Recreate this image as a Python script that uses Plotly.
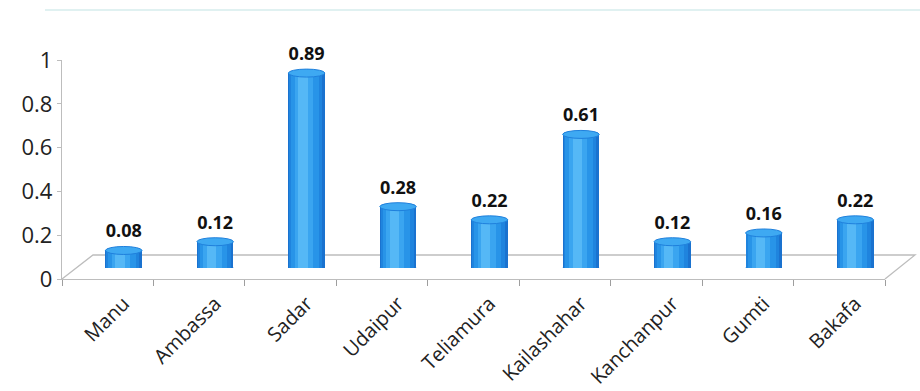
import plotly.graph_objects as go

categories = ["Manu", "Ambassa", "Sadar", "Udaipur", "Teliamura",
              "Kailashahar", "Kanchanpur", "Gumti", "Bakafa"]
values = [0.08, 0.12, 0.89, 0.28, 0.22, 0.61, 0.12, 0.16, 0.22]
value_labels = ["0.08", "0.12", "0.89", "0.28", "0.22", "0.61", "0.12", "0.16", "0.22"]
y_ticks = [0, 0.2, 0.4, 0.6, 0.8, 1]
y_tick_text = ["0", "0.2", "0.4", "0.6", "0.8", "1"]

W, H = 920, 391
L, R, T, B = 62, 5, 60, 112
PW = W - L - R          # 853
PH = H - T - B          # 219
FRONT_W = 823           # width of front axis
DX, DY = 16, 11         # bar depth offset (px)
BX, BY = 31, 24         # back wall offset (px)
LX = 16                 # category label shift (px)

x_idx = list(range(len(categories)))

fig = go.Figure()

layers = [
    (0.40, -0.200, "#1a72cf"),
    (0.36, -0.190, "#1f84de"),
    (0.30, -0.170, "#2894e8"),
    (0.20, -0.130, "#3aa5f0"),
    (0.10, -0.090, "#55b8f6"),
]
for w, off, col in layers:
    fig.add_trace(go.Bar(
        x=x_idx, y=values, width=w, offset=off,
        marker=dict(color=col, line=dict(width=0)),
        xaxis="x2", yaxis="y2", hoverinfo="skip", showlegend=False,
    ))

fig.add_trace(go.Scatter(
    x=x_idx, y=values, mode="text+markers", text=value_labels,
    textposition="top center",
    marker=dict(size=12, opacity=0),
    textfont=dict(family="Open Sans", size=18, color="#111111", weight="bold"),
    xaxis="x2", yaxis="y2", cliponaxis=False, hoverinfo="skip", showlegend=False,
))

fig.add_trace(go.Scatter(
    x=categories, y=[None] * len(categories), mode="markers",
    xaxis="x3", yaxis="y", showlegend=False, hoverinfo="skip",
))
fig.add_trace(go.Scatter(
    x=categories, y=[None] * len(categories), mode="markers",
    xaxis="x", yaxis="y", showlegend=False, hoverinfo="skip",
))

shapes = []
eh = 8 / PH
for i, v in zip(x_idx, values):
    shapes.append(dict(type="circle", xref="x2", yref="y2",
                       x0=i - 0.20, x1=i + 0.20, y0=-eh / 2, y1=eh / 2,
                       fillcolor="#1b74d2", line=dict(width=0), layer="below"))
    shapes.append(dict(type="circle", xref="x2", yref="y2",
                       x0=i - 0.20, x1=i + 0.20, y0=v - eh / 2, y1=v + eh / 2,
                       fillcolor="#3ea9f2", line=dict(color="#1f80dc", width=1),
                       layer="above"))

def px(xp):
    return (xp - L) / PW

def py(yp):
    return (H - B - yp) / PH

fx0, fx1 = L, L + FRONT_W
fy = H - B
floor_path = (f"M{px(fx0)},{py(fy)} L{px(fx0 + BX)},{py(fy - BY)} "
              f"L{px(fx1 + BX - 1)},{py(fy - BY)} L{px(fx1)},{py(fy)}")
shapes.append(dict(type="path", xref="paper", yref="paper", path=floor_path,
                   line=dict(color="#bdbdbd", width=1.3), layer="below"))
shapes.append(dict(type="line", xref="paper", yref="paper",
                   x0=px(45), x1=px(920), y0=py(10), y1=py(10),
                   line=dict(color="#d6ecec", width=1.5)))

fig.update_layout(
    width=W, height=H,
    margin=dict(l=L, r=R, t=T, b=B, pad=0, autoexpand=False),
    paper_bgcolor="white", plot_bgcolor="rgba(0,0,0,0)",
    showlegend=False, bargap=0, barmode="overlay",
    shapes=shapes,
    xaxis=dict(domain=[0, FRONT_W / PW], type="category",
               categoryorder="array", categoryarray=categories,
               range=[-0.5, len(categories) - 0.5], automargin=False,
               showline=True, linecolor="#bdbdbd", linewidth=1.3,
               ticks="outside", ticklen=6, tickcolor="#9e9e9e", tickwidth=1,
               tickson="boundaries", showticklabels=False,
               showgrid=False, zeroline=False),
    xaxis3=dict(domain=[LX / PW, (FRONT_W + LX) / PW], type="category",
                categoryorder="array", categoryarray=categories,
                range=[-0.5, len(categories) - 0.5], anchor="y", automargin=False,
                showline=False, ticks="", tickangle=-45, ticklabelstandoff=8,
                showgrid=False, zeroline=False,
                tickfont=dict(family="Open Sans", size=20, color="#222222")),
    yaxis=dict(domain=[0, 1], range=[0, 1], tickvals=y_ticks, ticktext=y_tick_text,
               automargin=False,
               showline=True, linecolor="#bdbdbd", linewidth=1.3,
               ticks="outside", ticklen=4, tickcolor="#bdbdbd",
               showgrid=False, zeroline=False,
               tickfont=dict(family="Open Sans", size=22, color="#222222")),
    xaxis2=dict(domain=[DX / PW, (FRONT_W + DX) / PW], anchor="y2", automargin=False,
                range=[-0.5, len(categories) - 0.5], visible=False),
    yaxis2=dict(domain=[DY / PH, 1], anchor="x2", automargin=False,
                range=[0, (PH - DY) / PH], visible=False),
)

fig.write_html("out.html")
